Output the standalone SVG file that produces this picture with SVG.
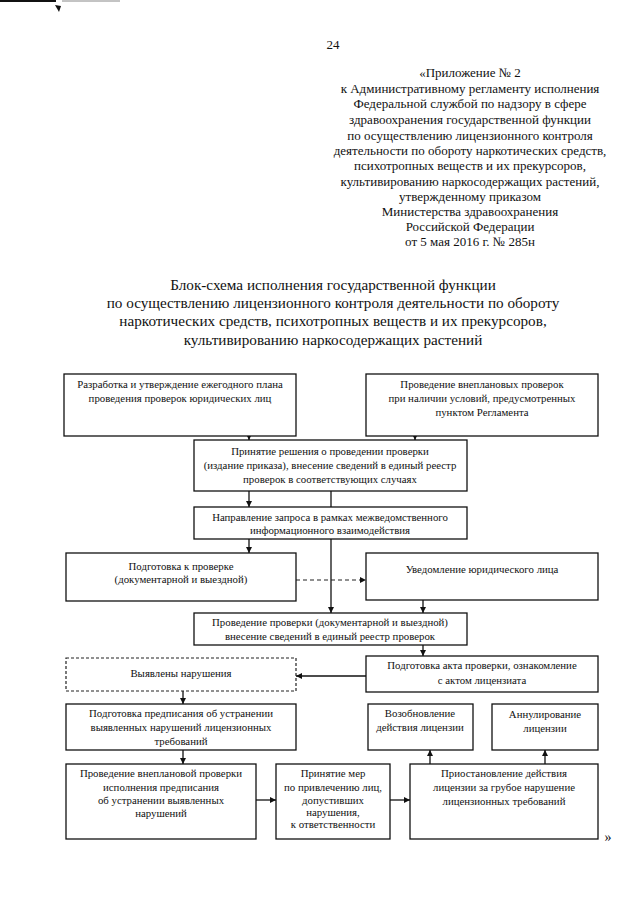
<svg xmlns="http://www.w3.org/2000/svg" width="640" height="905" viewBox="0 0 640 905">
<style>
.hd{font-family:"Liberation Serif","Times New Roman",serif;font-size:13px;fill:#111;text-anchor:middle}
.tt{font-family:"Liberation Serif","Times New Roman",serif;font-size:15.2px;fill:#111;text-anchor:middle}
.bx{fill:#fff;stroke:#111;stroke-width:1.3}
.dbx{fill:#fff;stroke:#222;stroke-width:1.2;stroke-dasharray:3 2}
.t{font-family:"Liberation Serif","Times New Roman",serif;font-size:10.8px;fill:#111;text-anchor:middle}
.ln{fill:none;stroke:#111;stroke-width:1.3}
.dl{fill:none;stroke:#222;stroke-width:1.1;stroke-dasharray:4 3}
</style>
<defs>
<marker id="ah" viewBox="0 0 10 10" refX="10" refY="5" markerWidth="7" markerHeight="6" markerUnits="userSpaceOnUse" orient="auto">
<path d="M0,0 L10,5 L0,10 z" fill="#111"/>
</marker>
</defs>
<rect width="640" height="905" fill="#fff"/>
<g id="scanmarks">
<line x1="0" y1="1" x2="56" y2="1" stroke="#111" stroke-width="2"/>
<line x1="62" y1="1" x2="120" y2="1" stroke="#888" stroke-width="1"/>
<path d="M55,5 L61,6 L59,12 Z" fill="#111"/>
</g>
<g id="header">
<text class="hd" x="333" y="49">24</text>
<text class="hd" x="470" y="77">«Приложение № 2</text>
<text class="hd" x="470" y="93">к Административному регламенту исполнения</text>
<text class="hd" x="470" y="108">Федеральной службой по надзору в сфере</text>
<text class="hd" x="470" y="124">здравоохранения государственной функции</text>
<text class="hd" x="470" y="140">по осуществлению лицензионного контроля</text>
<text class="hd" x="470" y="155">деятельности по обороту наркотических средств,</text>
<text class="hd" x="470" y="170">психотропных веществ и их прекурсоров,</text>
<text class="hd" x="470" y="186">культивированию наркосодержащих растений,</text>
<text class="hd" x="470" y="201">утвержденному приказом</text>
<text class="hd" x="470" y="216">Министерства здравоохранения</text>
<text class="hd" x="470" y="231">Российской Федерации</text>
<text class="hd" x="470" y="246">от 5 мая 2016 г. № 285н</text>
</g>
<g id="title">
<text class="tt" x="333" y="290">Блок-схема исполнения государственной функции</text>
<text class="tt" x="333" y="308">по осуществлению лицензионного контроля деятельности по обороту</text>
<text class="tt" x="333" y="326">наркотических средств, психотропных веществ и их прекурсоров,</text>
<text class="tt" x="333" y="345">культивированию наркосодержащих растений</text>
</g>
<g id="connectors">
<line class="ln" x1="249" y1="436" x2="249" y2="440" marker-end="url(#ah)"/>
<line class="ln" x1="415" y1="436" x2="415" y2="440" marker-end="url(#ah)"/>
<line class="ln" x1="249" y1="491" x2="249" y2="507" marker-end="url(#ah)"/>
<line class="ln" x1="331" y1="491" x2="331" y2="507"/>
<line class="ln" x1="249" y1="539" x2="249" y2="553" marker-end="url(#ah)"/>
<line class="ln" x1="331" y1="539" x2="331" y2="613" marker-end="url(#ah)"/>
<line class="dl" x1="296" y1="580" x2="366" y2="580" marker-end="url(#ah)"/>
<line class="ln" x1="423" y1="600" x2="423" y2="613" marker-end="url(#ah)"/>
<line class="ln" x1="423" y1="645" x2="423" y2="656" marker-end="url(#ah)"/>
<line class="ln" x1="366" y1="676" x2="296" y2="676" marker-end="url(#ah)"/>
<line class="ln" x1="183" y1="691" x2="183" y2="704" marker-end="url(#ah)"/>
<line class="ln" x1="183" y1="750" x2="183" y2="764" marker-end="url(#ah)"/>
<line class="ln" x1="256" y1="800" x2="276" y2="800" marker-end="url(#ah)"/>
<line class="ln" x1="390" y1="800" x2="410" y2="800" marker-end="url(#ah)"/>
<line class="ln" x1="430" y1="764" x2="430" y2="750" marker-end="url(#ah)"/>
<line class="ln" x1="545" y1="764" x2="545" y2="750" marker-end="url(#ah)"/>
</g>
<g id="n1">
<rect class="bx" x="64" y="374" width="232" height="62"/>
<text class="t" x="180" y="388">Разработка и утверждение ежегодного плана</text>
<text class="t" x="180" y="402">проведения проверок юридических лиц</text>
</g>
<g id="n2">
<rect class="bx" x="366" y="374" width="232" height="62"/>
<text class="t" x="482" y="388">Проведение внеплановых проверок</text>
<text class="t" x="482" y="402">при наличии условий, предусмотренных</text>
<text class="t" x="482" y="416">пунктом Регламента</text>
</g>
<g id="n3">
<rect class="bx" x="194" y="440" width="273" height="51"/>
<text class="t" x="330" y="455">Принятие решения о проведении проверки</text>
<text class="t" x="330" y="469">(издание приказа), внесение сведений в единый реестр</text>
<text class="t" x="330" y="483">проверок в соответствующих случаях</text>
</g>
<g id="n4">
<rect class="bx" x="194" y="507" width="273" height="32"/>
<text class="t" x="330" y="521">Направление запроса в рамках межведомственного</text>
<text class="t" x="330" y="534">информационного взаимодействия</text>
</g>
<g id="n5">
<rect class="bx" x="66" y="553" width="230" height="48"/>
<text class="t" x="181" y="570">Подготовка к проверке</text>
<text class="t" x="181" y="583">(документарной и выездной)</text>
</g>
<g id="n6">
<rect class="bx" x="366" y="553" width="232" height="47"/>
<text class="t" x="482" y="573">Уведомление юридического лица</text>
</g>
<g id="n7">
<rect class="bx" x="194" y="613" width="273" height="32"/>
<text class="t" x="330" y="626">Проведение проверки (документарной и выездной)</text>
<text class="t" x="330" y="640">внесение сведений в единый реестр проверок</text>
</g>
<g id="n8">
<rect class="dbx" x="66" y="658" width="230" height="33"/>
<text class="t" x="181" y="677">Выявлены нарушения</text>
</g>
<g id="n9">
<rect class="bx" x="366" y="656" width="232" height="36"/>
<text class="t" x="482" y="669">Подготовка акта проверки, ознакомление</text>
<text class="t" x="482" y="684">с актом лицензиата</text>
</g>
<g id="n10">
<rect class="bx" x="66" y="704" width="230" height="46"/>
<text class="t" x="181" y="717">Подготовка предписания об устранении</text>
<text class="t" x="181" y="731">выявленных нарушений лицензионных</text>
<text class="t" x="181" y="745">требований</text>
</g>
<g id="n11">
<rect class="bx" x="368" y="704" width="105" height="46"/>
<text class="t" x="420" y="717">Возобновление</text>
<text class="t" x="420" y="731">действия лицензии</text>
</g>
<g id="n12">
<rect class="bx" x="492" y="704" width="106" height="46"/>
<text class="t" x="545" y="718">Аннулирование</text>
<text class="t" x="545" y="732">лицензии</text>
</g>
<g id="n13">
<rect class="bx" x="66" y="764" width="190" height="75"/>
<text class="t" x="161" y="777">Проведение внеплановой проверки</text>
<text class="t" x="161" y="791">исполнения предписания</text>
<text class="t" x="161" y="804">об устранении выявленных</text>
<text class="t" x="161" y="817">нарушений</text>
</g>
<g id="n14">
<rect class="bx" x="276" y="764" width="114" height="75"/>
<text class="t" x="333" y="777">Принятие мер</text>
<text class="t" x="333" y="791">по привлечению лиц,</text>
<text class="t" x="333" y="804">допустивших</text>
<text class="t" x="333" y="816">нарушения,</text>
<text class="t" x="333" y="828">к ответственности</text>
</g>
<g id="n15">
<rect class="bx" x="410" y="764" width="188" height="75"/>
<text class="t" x="504" y="777">Приостановление действия</text>
<text class="t" x="504" y="791">лицензии за грубое нарушение</text>
<text class="t" x="504" y="805">лицензионных требований</text>
</g>
<text class="hd" x="608" y="842" style="font-size:14px">»</text>
</svg>
